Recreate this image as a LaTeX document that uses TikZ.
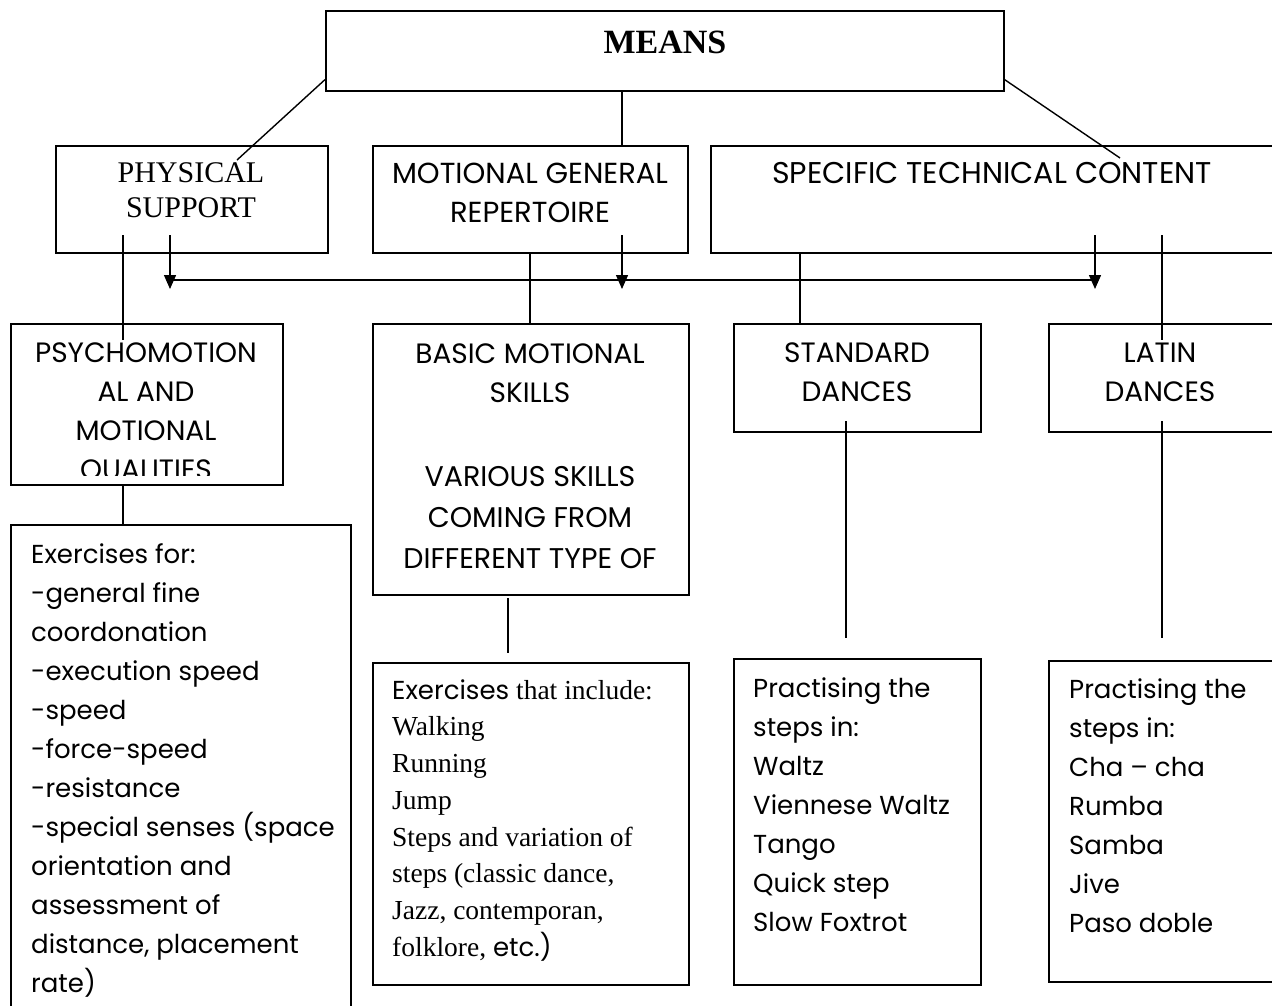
\documentclass[tikz,border=0pt]{standalone}
\usepackage{fontspec}
\setmainfont{Liberation Serif}
\newfontfamily\gothic{Poppins}
\usetikzlibrary{arrows.meta,calc}

% first-line strut: fixes the distance from a text node's top to its first baseline
\newcommand\topstrut{\rule{0pt}{30pt}}

\tikzset{
  frame/.style={draw, line width=1.6pt, inner sep=0pt, anchor=north west},
  link/.style={line width=1.4pt},
  drop/.style={line width=1.4pt, -{Triangle[length=14pt,width=12pt]}},
  capsC/.style={font=\gothic\fontsize{#1}{39}\selectfont, inner sep=0pt, align=center, anchor=north},
  capsC/.default=28,
  bigcapsC/.style={font=\gothic\fontsize{28.5}{41}\selectfont, inner sep=0pt, align=center, anchor=north},
  serifC/.style={font=\fontsize{30}{35}\selectfont, inner sep=0pt, align=center, anchor=north},
  listL/.style={font=\gothic\fontsize{26}{39}\selectfont, inner sep=0pt, align=left, anchor=north west},
  mixL/.style={font=\fontsize{27.5}{36.7}\selectfont, inner sep=0pt, align=left, anchor=north west},
}

\begin{document}
\begin{tikzpicture}[x=1pt,y=-1pt]
\useasboundingbox (0,0) rectangle (1272,1005);
\fill[white] (0,0) rectangle (1272,1005);

% ---- boxes ----
\node[frame, minimum width=678, minimum height=80]  (means) at (325,10) {};
\node[frame, minimum width=272, minimum height=107] (phys)  at (55,145) {};
\node[frame, minimum width=315, minimum height=107] (mgr)   at (372,145) {};
\node[frame, minimum width=570, minimum height=107] (stc)   at (710,145) {};
\node[frame, minimum width=272, minimum height=161] (psy)   at (10,323) {};
\node[frame, minimum width=316, minimum height=271] (bms)   at (372,323) {};
\node[frame, minimum width=247, minimum height=108] (std)   at (733,323) {};
\node[frame, minimum width=232, minimum height=108] (lat)   at (1048,323) {};
\node[frame, minimum width=340, minimum height=500] (exf)   at (10,524) {};
\node[frame, minimum width=316, minimum height=322] (exi)   at (372,662) {};
\node[frame, minimum width=247, minimum height=326] (pst)   at (733,658) {};
\node[frame, minimum width=232, minimum height=321] (plt)   at (1048,660) {};

% ---- texts ----
\node[font=\bfseries\fontsize{34}{40}\selectfont, inner sep=0pt, anchor=base] (meansT) at (665,53) {MEANS};
\node[serifC] (physT) at (191,152) {\topstrut PHYSICAL\\SUPPORT};
\node[capsC=29] (mgrT) at (530,153) {\topstrut MOTIONAL GENERAL\\REPERTOIRE};
\node[capsC=30] (stcT) at (992,153) {\topstrut SPECIFIC TECHNICAL CONTENT};
\begin{scope}
  \clip (10,323) rectangle (282,475);
  \node[capsC] (psyT) at (146,332) {\topstrut PSYCHOMOTION\\AL AND\\MOTIONAL\\QUALITIES};
\end{scope}
\node[capsC] (bmsT) at (530,333) {\topstrut BASIC MOTIONAL\\SKILLS};
\node[bigcapsC] (bmsS) at (530,456) {\topstrut VARIOUS SKILLS\\COMING FROM\\DIFFERENT TYPE OF};
\node[capsC] (stdT) at (857,332) {\topstrut STANDARD\\DANCES};
\node[capsC] (latT) at (1160,332) {\topstrut LATIN\\DANCES};

\node[listL] (exfT) at (31,533) {\topstrut Exercises for:\\-general fine\\coordonation\\-execution speed\\-speed\\-force-speed\\-resistance\\-special senses (space\\orientation and\\assessment of\\distance, placement\\rate)};
\node[mixL] (exiT) at (392,669) {\topstrut{\gothic\fontsize{26}{36.7}\selectfont Exercises} that include:\\Walking\\Running\\Jump\\Steps and variation of\\steps (classic dance,\\Jazz, contemporan,\\folklore, {\gothic\fontsize{26}{36.7}\selectfont etc.)}};
\node[listL] (pstT) at (753,667) {\topstrut Practising the\\steps in:\\Waltz\\Viennese Waltz\\Tango\\Quick step\\Slow Foxtrot};
\node[listL] (pltT) at (1069,668) {\topstrut Practising the\\steps in:\\Cha – cha\\Rumba\\Samba\\Jive\\Paso doble};

% ---- reference levels for the connectors ----
\coordinate (xa) at (123,0);
\coordinate (xb) at (170,0);
\coordinate (xc) at (530,0);
\coordinate (xd) at (622,0);
\coordinate (xe) at (800,0);
\coordinate (xf) at (1095,0);
\coordinate (xg) at (1162,0);
\coordinate (xh) at (508,0);
\coordinate (xi) at (846,0);
\coordinate (ya) at (0,235);
\coordinate (yb) at (0,280);
\coordinate (yc) at (0,289);
\coordinate (yd) at (0,340);
\coordinate (ye) at (0,598);
\coordinate (yf) at (0,653);
\coordinate (yg) at (0,421);
\coordinate (yh) at (0,638);
\coordinate (pinL) at (237,160);
\coordinate (pinR) at (1120,158);

% ---- connectors ----
\draw[link] ($(means.south west)+(0,-12)$) -- (pinL);
\draw[link] ($(means.south east)+(0,-12)$) -- (pinR);
\draw[link] (means.south -| xd) -- (mgr.north -| xd);

\draw[link] (xa |- ya) -- (xa |- yd);
\draw[link] (mgr.south -| xc) -- (bms.north -| xc);
\draw[link] (stc.south -| xe) -- (std.north -| xe);
\draw[link] (xg |- ya) -- (xg |- yd);

\draw[link] (xb |- yb) -- (xf |- yb);
\draw[drop] (xb |- ya) -- (xb |- yc);
\draw[drop] (xd |- ya) -- (xd |- yc);
\draw[drop] (xf |- ya) -- (xf |- yc);

\draw[link] (psy.south -| xa) -- (exf.north -| xa);
\draw[link] (xh |- ye) -- (xh |- yf);
\draw[link] (xi |- yg) -- (xi |- yh);
\draw[link] (xg |- yg) -- (xg |- yh);
\end{tikzpicture}
\end{document}
